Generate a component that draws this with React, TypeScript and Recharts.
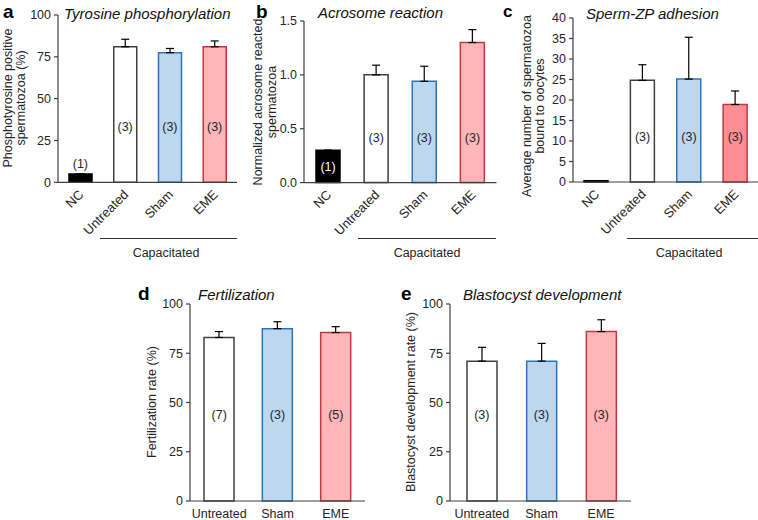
import React from "react";
import { ComposedChart, Bar, Cell, ErrorBar, Scatter, XAxis, YAxis } from "recharts";

const FONT = '"Liberation Sans", Arial, Helvetica, sans-serif';
const INK = "#262626";
const AXIS = "#404040";

// groups
const capGroups = ["NC", "Untreated", "Sham", "EME"];
const ivfGroups = ["Untreated", "Sham", "EME"];

// a - tyrosine phosphorylation (%)
const tyrValues = [5, 81, 77.5, 81];
const tyrSem = [0, 4.5, 2.5, 3.5];
const tyrN = ["(1)", "(3)", "(3)", "(3)"];
const tyrLabelAt = [11, 33, 33, 33];
const tyrTicks = [0, 25, 50, 75, 100];

// b - acrosome reaction (normalized)
const arValues = [0.3, 1.0, 0.94, 1.3];
const arSem = [0, 0.09, 0.14, 0.12];
const arN = ["(1)", "(3)", "(3)", "(3)"];
const arLabelAt = [0.15, 0.42, 0.42, 0.42];
const arTicks = [0, 0.5, 1.0, 1.5];

// c - sperm-ZP adhesion (count)
const zpValues = [0.3, 24.8, 25.1, 18.9];
const zpSem = [0, 3.8, 10.2, 3.3];
const zpN = ["", "(3)", "(3)", "(3)"];
const zpLabelAt = [11, 11, 11, 11];
const zpTicks = [0, 5, 10, 15, 20, 25, 30, 35, 40];

// d - fertilization (%)
const fertValues = [83, 87.5, 85.5];
const fertSem = [3, 3.5, 3];
const fertN = ["(7)", "(3)", "(5)"];
const fertLabelAt = [44, 44, 44];

// e - blastocyst development (%)
const blastValues = [71, 71, 86];
const blastSem = [7, 9, 6];
const blastN = ["(3)", "(3)", "(3)"];
const blastLabelAt = [44, 44, 44];
const pctTicks = [0, 25, 50, 75, 100];

const groupStyle: Record<string, { fill: string; stroke: string }> = {
  NC: { fill: "#000000", stroke: "#000000" },
  Untreated: { fill: "#ffffff", stroke: "#404040" },
  Sham: { fill: "#bdd7ee", stroke: "#2e75b6" },
  EME: { fill: "#ffb6b8", stroke: "#c0393f" },
};

function RotTick({ x, y, payload }: any) {
  return (
    <text
      x={x + 4}
      y={y + 11}
      transform={`rotate(-45, ${x + 4}, ${y + 11})`}
      textAnchor="end"
      fontSize={13}
      fill={INK}
      fontFamily={FONT}
    >
      {payload.value}
    </text>
  );
}

function FlatTick({ x, y, payload }: any) {
  return (
    <text x={x} y={y + 15} textAnchor="middle" fontSize={12.5} fill={INK} fontFamily={FONT}>
      {payload.value}
    </text>
  );
}

function Panel({
  x,
  top,
  right,
  bottom,
  groups,
  values,
  sem,
  counts,
  labelAt,
  ticks,
  barSize,
  rotated,
  fmt,
  emeFill,
  whiteFirst,
  padLeft = 0,
}: any) {
  const YW = 50;
  const MT = 6;
  const plotW = right - x;
  const plotH = bottom - top;
  const XH = rotated ? 70 : 19;
  const data = groups.map((g: string, i: number) => ({
    name: g,
    value: values[i],
    err: [0, sem[i]],
    ny: labelAt[i],
    n: counts[i],
  }));
  return (
    <div style={{ position: "absolute", left: x - YW, top: top - MT }}>
      <ComposedChart
        width={YW + plotW}
        height={MT + plotH + XH}
        data={data}
        margin={{ top: MT, right: 0, left: 0, bottom: 0 }}
      >
        <XAxis
          dataKey="name"
          height={XH}
          tickLine={false}
          tickSize={0}
          axisLine={{ stroke: AXIS, strokeWidth: 1.2 }}
          tick={rotated ? <RotTick /> : <FlatTick />}
          interval={0}
          padding={{ left: padLeft, right: 0 }}
        />
        <YAxis
          width={YW}
          domain={[ticks[0], ticks[ticks.length - 1]]}
          ticks={ticks}
          interval={0}
          tickSize={4}
          tickMargin={3}
          tickFormatter={fmt}
          axisLine={{ stroke: AXIS, strokeWidth: 1.2 }}
          tickLine={{ stroke: AXIS, strokeWidth: 1.2 }}
          tick={{ fontSize: 12.5, fill: INK, fontFamily: FONT }}
        />
        <Bar dataKey="value" barSize={barSize} strokeWidth={1.5} isAnimationActive={false}>
          {data.map((d: any) => (
            <Cell
              key={d.name}
              fill={d.name === "EME" && emeFill ? emeFill : groupStyle[d.name].fill}
              stroke={groupStyle[d.name].stroke}
            />
          ))}
          <ErrorBar dataKey="err" width={4} stroke="#000" strokeWidth={1.2} direction="y" />
        </Bar>
        <Scatter
          dataKey="ny"
          isAnimationActive={false}
          shape={(p: any) =>
            p.payload.n ? (
              <text
                x={p.cx}
                y={p.cy}
                dy="0.35em"
                textAnchor="middle"
                fontSize={12.5}
                fontFamily={FONT}
                fill={whiteFirst && p.payload.name === "NC" ? "#ffffff" : INK}
              >
                {p.payload.n}
              </text>
            ) : (
              <g />
            )
          }
        />
      </ComposedChart>
    </div>
  );
}

function YLabel({ x, y, lines }: { x: number[]; y: number; lines: string[] }) {
  return (
    <>
      {lines.map((t, i) => (
        <text
          key={t}
          transform={`translate(${x[i]}, ${y}) rotate(-90)`}
          textAnchor="middle"
          dy="0.35em"
          fontSize={12.5}
          fill={INK}
          fontFamily={FONT}
        >
          {t}
        </text>
      ))}
    </>
  );
}

function Bracket({ x1, x2, tx }: { x1: number; x2: number; tx: number }) {
  return (
    <>
      <line x1={x1} x2={x2} y1={238.5} y2={238.5} stroke="#333" strokeWidth={1} />
      <text x={tx} y={257} textAnchor="middle" fontSize={12.5} fill={INK} fontFamily={FONT}>
        Capacitated
      </text>
    </>
  );
}

export default function App() {
  const letter = { fontSize: 19, fontWeight: 700, fill: "#000", fontFamily: FONT } as const;
  const title = { fontSize: 15, fontStyle: "italic", fill: "#111", fontFamily: FONT } as const;
  return (
    <div
      style={{
        position: "absolute",
        left: 0,
        top: 0,
        width: 758,
        height: 520,
        background: "#fff",
        fontFamily: FONT,
        overflow: "hidden",
      }}
    >
      <Panel x={58} top={15} right={237} bottom={182.3} groups={capGroups} values={tyrValues} sem={tyrSem}
        counts={tyrN} labelAt={tyrLabelAt} ticks={tyrTicks} barSize={23} rotated />
      <Panel x={304} top={20.7} right={496.5} bottom={182.3} groups={capGroups} values={arValues} sem={arSem}
        counts={arN} labelAt={arLabelAt} ticks={arTicks} barSize={24} rotated whiteFirst
        fmt={(v: number) => v.toFixed(1)} />
      <Panel x={572.5} top={18.3} right={758} bottom={182.3} groups={capGroups} values={zpValues} sem={zpSem}
        counts={zpN} labelAt={zpLabelAt} ticks={zpTicks} barSize={24} rotated emeFill="#ff8e93" />
      <Panel x={190} top={304} right={365} bottom={501} groups={ivfGroups} values={fertValues} sem={fertSem}
        counts={fertN} labelAt={fertLabelAt} ticks={pctTicks} barSize={30} />
      <Panel x={450} top={304} right={631} bottom={501} groups={ivfGroups} values={blastValues} sem={blastSem}
        counts={blastN} labelAt={blastLabelAt} ticks={pctTicks} barSize={30} padLeft={2} />

      <svg width={758} height={520} style={{ position: "absolute", left: 0, top: 0, pointerEvents: "none" }}>
        <text x={3} y={18} {...letter}>a</text>
        <text x={256} y={18} {...letter}>b</text>
        <text x={503} y={17} {...letter} fontSize={17}>c</text>
        <text x={138} y={300} {...letter}>d</text>
        <text x={401} y={300} {...letter}>e</text>

        <text x={64} y={19} {...title}>Tyrosine phosphorylation</text>
        <text x={318} y={18} {...title}>Acrosome reaction</text>
        <text x={586} y={19} {...title}>Sperm-ZP adhesion</text>
        <text x={198} y={300} {...title}>Fertilization</text>
        <text x={463} y={300} {...title}>Blastocyst development</text>

        <YLabel x={[8, 21]} y={98} lines={["Phosphotyrosine positive", "spermatozoa (%)"]} />
        <YLabel x={[258, 272]} y={102} lines={["Normalized acrosome reacted", "spermatozoa"]} />
        <YLabel x={[527, 540]} y={106} lines={["Average number of spermatozoa", "bound to oocytes"]} />
        <YLabel x={[152]} y={402} lines={["Fertilization rate (%)"]} />
        <YLabel x={[411]} y={402} lines={["Blastocyst development rate (%)"]} />

        <Bracket x1={100} x2={237} tx={166} />
        <Bracket x1={358} x2={496} tx={427} />
        <Bracket x1={627} x2={758} tx={689} />
      </svg>
    </div>
  );
}
